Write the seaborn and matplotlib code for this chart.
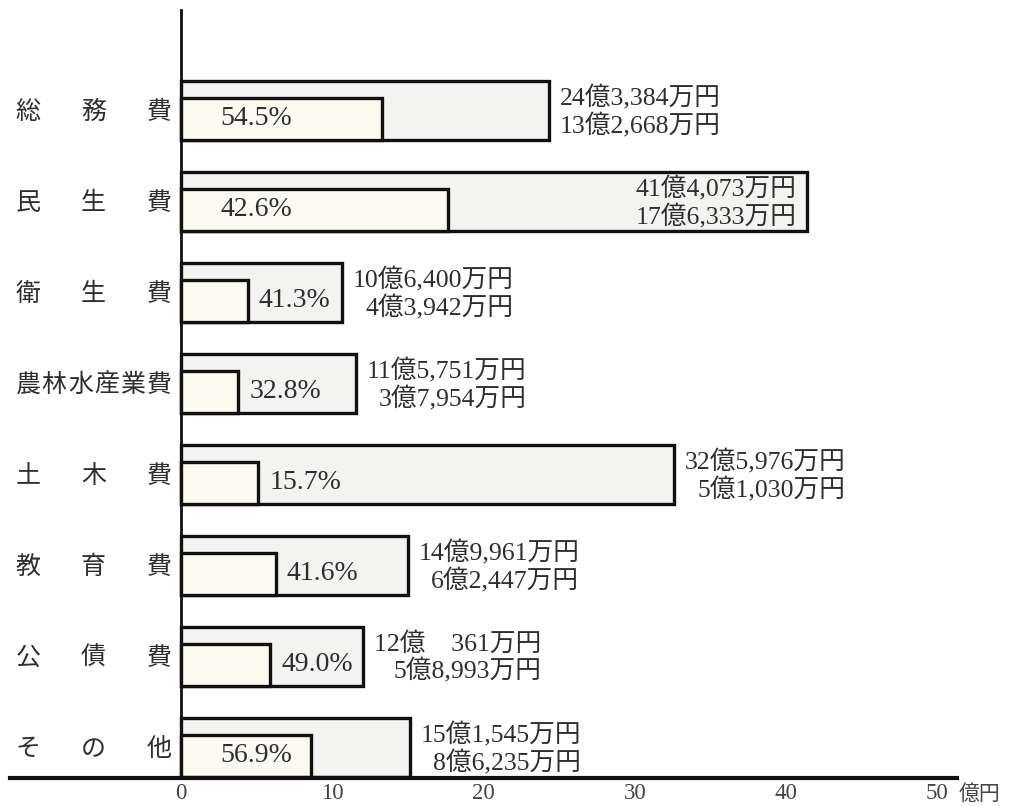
import numpy as np
import pandas as pd
import seaborn as sns
import matplotlib.pyplot as plt
import matplotlib.transforms as mtransforms

# Expenditure by item: total budget and the portion covered (unit: 万円)
categories = ["総務費", "民生費", "衛生費", "農林水産業費", "土木費", "教育費", "公債費", "その他"]
total_man = [243384, 414073, 106400, 115751, 325976, 149961, 120361, 151545]
share_man = [132668, 176333, 43942, 37954, 51030, 62447, 58993, 86235]
x_ticks = [0, 10, 20, 30, 40, 50]
x_unit = "億円"

sns.set_theme(style="white")
plt.rcParams["font.family"] = ["Liberation Serif", "Noto Sans CJK JP"]

INK = "#2e2e2e"
OUTER_FILL = "#f3f3f1"
INNER_FILL = "#fcfaf1"
OUTER_H = 0.65
INNER_H = 0.46


def yen_label(man):
    oku, rest = divmod(man, 10000)
    if rest >= 1000:
        return f"{oku}億{rest:,}万円"
    return f"{oku}億\u3000{rest}万円"


rows = np.arange(len(categories), dtype=float)
df = pd.DataFrame({
    "category": categories,
    "row": rows,
    "inner_row": rows + OUTER_H / 2 - INNER_H / 2,
    "total": np.array(total_man) / 10000,
    "share": np.array(share_man) / 10000,
})
df["pct"] = np.array(share_man) / np.array(total_man) * 100

fig = plt.figure(figsize=(10.15, 8.06), dpi=100)
ax = fig.add_axes([0.00985, 0.0347, 0.933, 0.9529])

sns.barplot(data=df, x="total", y="row", orient="h", native_scale=True,
            width=OUTER_H, color=OUTER_FILL, saturation=1, edgecolor="#111111",
            linewidth=2.4, errorbar=None, ax=ax)
sns.barplot(data=df, x="share", y="inner_row", orient="h", native_scale=True,
            width=INNER_H, color=INNER_FILL, saturation=1, edgecolor="#111111",
            linewidth=2.4, errorbar=None, ax=ax)

ax.set_xlim(-11.31, 51.3)
ax.set_ylim(len(categories) - 1 + 0.34, -1.1)

# Axes: vertical line at zero, thick baseline
for side in ("top", "right"):
    ax.spines[side].set_visible(False)
ax.spines["left"].set_position(("data", 0))
ax.spines["left"].set_linewidth(2.0)
ax.spines["left"].set_color("#111111")
ax.spines["bottom"].set_linewidth(3.0)
ax.spines["bottom"].set_color("#111111")
ax.set_yticks([])
ax.set_xticks(x_ticks)
ax.set_xticklabels([str(t) for t in x_ticks], fontsize=16.5, color="#444444")
ax.tick_params(axis="x", direction="inout", length=6, width=1.5,
               color="#111111", pad=0.5)
ax.set_xlabel("")
ax.set_ylabel("")

# Unit next to the last tick label
unit_tf = mtransforms.blended_transform_factory(ax.transData, ax.transAxes)
ax.text(x_ticks[-1] + 1.4, -0.007, x_unit, fontsize=15, color="#444444",
        ha="left", va="top", transform=unit_tf, family=["Noto Sans CJK JP"])

# Category names spread across a fixed label width
left_c, right_c = -10.12, -1.46
for i, name in enumerate(categories):
    n = len(name)
    xs = np.linspace(left_c, right_c, n) if n > 1 else [right_c]
    for ch, xc in zip(name, xs):
        ax.text(xc, i + 0.02, ch, ha="center", va="center", fontsize=18,
                color=INK, family=["Noto Sans CJK JP"])

# Percentage of each item and the amount labels
for i, r in df.iterrows():
    y_in = r["inner_row"]
    if r["share"] >= 8:
        ax.text(2.6, y_in, f"{r['pct']:.1f}%", ha="left", va="center",
                fontsize=20, color=INK)
    else:
        ax.text(r["share"] + 0.75, y_in, f"{r['pct']:.1f}%", ha="left",
                va="center", fontsize=20, color=INK)

    txt = yen_label(total_man[i]) + "\n" + yen_label(share_man[i])
    if r["total"] > 40:
        ax.text(r["total"] - 0.7, r["row"] + 0.02, txt, ha="right", va="center",
                multialignment="right", fontsize=18.5, color=INK, linespacing=1.15)
    else:
        ax.text(r["total"] + 0.7, r["row"] + 0.02, txt, ha="left", va="center",
                multialignment="right", fontsize=18.5, color=INK, linespacing=1.15)

fig.savefig("out.png", dpi=100, facecolor="white")
